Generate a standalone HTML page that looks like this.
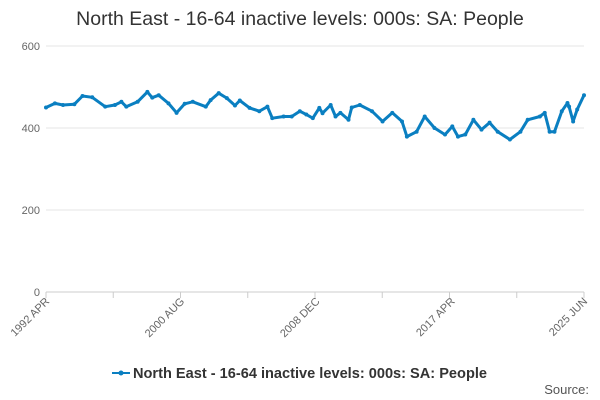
<!DOCTYPE html>
<html><head><meta charset="utf-8"><style>
body{margin:0;background:#fff;}
svg{display:block;font-family:"Liberation Sans",sans-serif;}
</style></head><body>
<svg id="chart" width="600" height="400">
<text x="300" y="25" text-anchor="middle" font-size="19.5" fill="#333">North East - 16-64 inactive levels: 000s: SA: People</text>
<g id="grid"></g><g id="xaxis"></g><g id="series"></g>
<g>
<line x1="112" y1="373" x2="130" y2="373" stroke="#0a7fc1" stroke-width="2"/>
<circle cx="121" cy="373" r="2.5" fill="#0a7fc1"/>
<text x="133" y="378" font-size="14.5" font-weight="bold" fill="#333" textLength="354" lengthAdjust="spacingAndGlyphs">North East - 16-64 inactive levels: 000s: SA: People</text>
</g>
<text x="589" y="394" text-anchor="end" font-size="13" fill="#555">Source:</text>
</svg>
<script>
const dates=[1992.25,1992.8,1993.3,1994.0,1994.5,1995.1,1995.9,1996.5,1996.9,1997.2,1997.9,1998.5,1998.8,1999.2,1999.8,2000.3,2000.8,2001.3,2002.1,2002.4,2002.9,2003.4,2003.9,2004.2,2004.8,2005.4,2005.9,2006.2,2006.9,2007.4,2007.9,2008.3,2008.7,2009.1,2009.3,2009.8,2010.1,2010.4,2010.9,2011.1,2011.6,2012.35,2013.0,2013.6,2014.2,2014.5,2015.1,2015.6,2016.2,2016.85,2017.3,2017.65,2018.1,2018.6,2019.1,2019.6,2020.1,2020.85,2021.5,2021.95,2022.7,2023.0,2023.3,2023.6,2024.05,2024.4,2024.5,2024.75,2025.0,2025.42];
const values=[450,460,456,458,478,475,452,456,464,452,464,488,474,480,460,437,459,464,452,468,485,473,455,467,449,441,452,424,428,428,441,433,424,449,436,456,428,437,420,450,456,441,416,437,416,379,391,428,400,384,404,379,384,420,396,413,391,372,391,420,428,437,391,391,441,461,452,416,445,480,474];
const yTicks=[0,200,400,600];
const xTickLabels=["1992 APR","2000 AUG","2008 DEC","2017 APR","2025 JUN"];
const xTickDates=[1992.25,2000.58,2008.92,2017.25,2025.42];
const X0=46,X1=584,Y0=292,Y1=46,D0=1992.25,D1=2025.42;
const xs=d=>X0+(d-D0)/(D1-D0)*(X1-X0);
const ys=v=>Y0-(v/600)*(Y0-Y1);
const NS="http://www.w3.org/2000/svg";
function mk(t,a,p){const e=document.createElementNS(NS,t);for(const k in a)e.setAttribute(k,a[k]);p.appendChild(e);return e;}
const grid=document.getElementById('grid'),xa=document.getElementById('xaxis'),se=document.getElementById('series');
yTicks.forEach(v=>{
 const l=mk('line',{x1:X0,x2:X1,y1:ys(v),y2:ys(v),stroke:v===0?'#ccc':'#e6e6e6'},grid);
 
 
 const t=mk('text',{x:X0-6,y:ys(v)+4,'text-anchor':'end','font-size':11,fill:'#666'},grid);
 t.textContent=v;
 
 
});
for(let i=0;i<=8;i++){
 const d=D0+i*(D1-D0)/8;
 const l=mk('line',{x1:xs(d),x2:xs(d),y1:Y0,y2:Y0+6,stroke:'#ccc'},xa);
 
 
}
xTickLabels.forEach((s,i)=>{
 const x=xs(xTickDates[i])+4,y=Y0+10;
 const t=mk('text',{x:x,y:y,'text-anchor':'end','font-size':11,fill:'#666',transform:`rotate(-45 ${x} ${y})`},xa);
 t.textContent=s;
 
 
});
const pts=dates.map((d,i)=>xs(d).toFixed(1)+','+ys(values[i]).toFixed(1)).join(' ');
const pl=mk('polyline',{points:pts,fill:'none',stroke:'#0a7fc1','stroke-width':3,'stroke-linejoin':'round'},se);


dates.forEach((d,i)=>{
 const c=mk('circle',{cx:xs(d),cy:ys(values[i]),r:2,fill:'#0a7fc1'},se);
 
 
});
</script>
</body></html>
